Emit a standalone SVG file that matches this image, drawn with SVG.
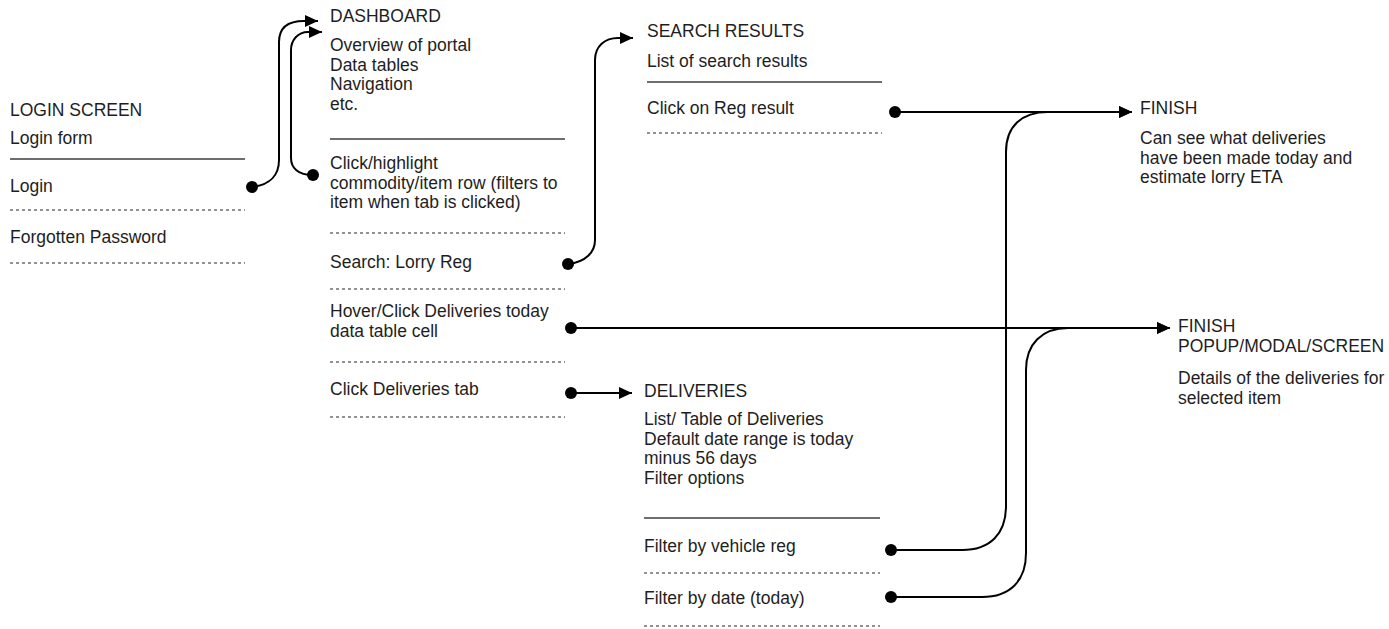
<svg xmlns="http://www.w3.org/2000/svg" width="1389" height="629" viewBox="0 0 1389 629">
<defs>
<marker id="arr" markerUnits="userSpaceOnUse" markerWidth="14" markerHeight="12" refX="13" refY="6" orient="auto">
<path d="M0,0 L13,6 L0,12 Z" fill="#000"/>
</marker>
<style>
text{font-family:"Liberation Sans",Arial,Helvetica,sans-serif;font-size:17.5px;fill:#1e1e1e}
.sol{stroke:#6e6e6e;stroke-width:2;fill:none}
.dash{stroke:#6e6e6e;stroke-width:1.5;stroke-dasharray:3 3;fill:none}
.con{stroke:#000;stroke-width:2;fill:none;marker-end:url(#arr)}
.dot{fill:#000}
</style>
</defs>
<rect width="1389" height="629" fill="#fff"/>

<g id="login">
<text x="10" y="116">LOGIN SCREEN</text>
<text x="10" y="144">Login form</text>
<line class="sol" x1="10" y1="159" x2="245" y2="159"/>
<text x="10" y="192">Login</text>
<line class="dash" x1="10" y1="210" x2="245" y2="210"/>
<text x="10" y="243">Forgotten Password</text>
<line class="dash" x1="10" y1="263" x2="245" y2="263"/>
</g>

<g id="dashboard">
<text x="330" y="22">DASHBOARD</text>
<text x="330" y="51">Overview of portal</text>
<text x="330" y="70.5">Data tables</text>
<text x="330" y="90">Navigation</text>
<text x="330" y="109.5">etc.</text>
<line class="sol" x1="330" y1="139" x2="565" y2="139"/>
<text x="330" y="169">Click/highlight</text>
<text x="330" y="188.5">commodity/item row (filters to</text>
<text x="330" y="208">item when tab is clicked)</text>
<line class="dash" x1="330" y1="233" x2="565" y2="233"/>
<text x="330" y="268">Search: Lorry Reg</text>
<line class="dash" x1="330" y1="289" x2="565" y2="289"/>
<text x="330" y="317">Hover/Click Deliveries today</text>
<text x="330" y="336.5">data table cell</text>
<line class="dash" x1="330" y1="362" x2="565" y2="362"/>
<text x="330" y="395">Click Deliveries tab</text>
<line class="dash" x1="330" y1="417" x2="565" y2="417"/>
</g>

<g id="search-results">
<text x="647" y="37">SEARCH RESULTS</text>
<text x="647" y="67">List of search results</text>
<line class="sol" x1="647" y1="82" x2="882" y2="82"/>
<text x="647" y="114">Click on Reg result</text>
<line class="dash" x1="647" y1="133" x2="882" y2="133"/>
</g>

<g id="deliveries">
<text x="644" y="397">DELIVERIES</text>
<text x="644" y="425">List/ Table of Deliveries</text>
<text x="644" y="444.5">Default date range is today</text>
<text x="644" y="464">minus 56 days</text>
<text x="644" y="483.5">Filter options</text>
<line class="sol" x1="644" y1="518" x2="880" y2="518"/>
<text x="644" y="552">Filter by vehicle reg</text>
<line class="dash" x1="644" y1="573" x2="880" y2="573"/>
<text x="644" y="604">Filter by date (today)</text>
<line class="dash" x1="644" y1="626" x2="880" y2="626"/>
</g>

<g id="finish1">
<text x="1140" y="114">FINISH</text>
<text x="1140" y="144">Can see what deliveries</text>
<text x="1140" y="163.5">have been made today and</text>
<text x="1140" y="183">estimate lorry ETA</text>
</g>

<g id="finish2">
<text x="1178" y="332">FINISH</text>
<text x="1178" y="351.5">POPUP/MODAL/SCREEN</text>
<text x="1178" y="384">Details of the deliveries for</text>
<text x="1178" y="403.5">selected item</text>
</g>

<g id="connectors">
<path class="con" d="M252,187 C270,185 279,175 279,160 V42 C279,28 288,21 304,21 H318"/>
<circle class="dot" cx="252" cy="187" r="6"/>
<path class="con" d="M313,175 C298,175 291,168 291,158 V50 C291,40 298,32 308,32 H322"/>
<circle class="dot" cx="313" cy="175" r="6"/>
<path class="con" d="M568,264 C586,262 595,252 595,240 V60 C595,46 605,38 618,38 H633"/>
<circle class="dot" cx="568" cy="264" r="6"/>
<path class="con" d="M571,328 H1170"/>
<circle class="dot" cx="571" cy="328" r="6"/>
<path class="con" d="M571,393 H632"/>
<circle class="dot" cx="571" cy="393" r="6"/>
<path class="con" d="M895,112 H1132"/>
<circle class="dot" cx="895" cy="112" r="6"/>
<path class="con" d="M891,550 H962 C990,550 1006,534 1006,506 V152 C1006,126 1022,112 1048,112 H1132"/>
<circle class="dot" cx="891" cy="550" r="6"/>
<path class="con" d="M891,597 H982 C1010,597 1026,581 1026,553 V370 C1026,344 1042,328 1068,328 H1170"/>
<circle class="dot" cx="891" cy="597" r="6"/>
</g>
</svg>
